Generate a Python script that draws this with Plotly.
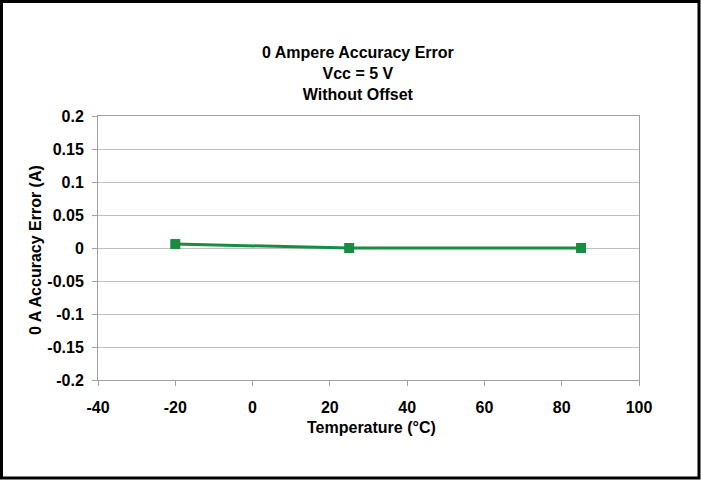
import plotly.graph_objects as go

temperature_c = [-20, 25, 85]
error_a = [0.006, 0.0, 0.0]

x_ticks = [-40, -20, 0, 20, 40, 60, 80, 100]
x_tick_text = ["-40", "-20", "0", "20", "40", "60", "80", "100"]
y_ticks = [-0.2, -0.15, -0.1, -0.05, 0, 0.05, 0.1, 0.15, 0.2]
y_tick_text = ["-0.2", "-0.15", "-0.1", "-0.05", "0", "0.05", "0.1", "0.15", "0.2"]

title_lines = ["0 Ampere Accuracy Error", "Vcc = 5 V", "Without Offset"]
x_title = "Temperature (°C)"
y_title = "0 A Accuracy Error (A)"

GREEN = "#168E42"
FONT = "Liberation Sans, Arial, sans-serif"

W, H = 701, 480
L, R, T, B = 98, 62, 116, 100
pw, ph = W - L - R, H - T - B


def px_to_paper_x(px):
    return (px - L) / pw


def px_to_paper_y(py):
    return (H - B - py) / ph


def bold_font(size):
    return dict(family=FONT, size=size, color="black", weight="bold")


fig = go.Figure()
fig.add_trace(go.Scatter(
    x=temperature_c, y=error_a, mode="lines+markers",
    line=dict(color=GREEN, width=3),
    marker=dict(symbol="square", size=10, color=GREEN),
    showlegend=False,
))

axis_common = dict(
    showline=True, linecolor="#a0a0a0", linewidth=1, mirror=True,
    ticks="outside", ticklen=5, tickcolor="#a0a0a0",
    tickfont=bold_font(16),
    zeroline=False,
)

fig.update_xaxes(range=[-40, 100], tickvals=x_ticks, ticktext=x_tick_text,
                 showgrid=False, ticklabelstandoff=8, **axis_common)
fig.update_yaxes(range=[-0.2, 0.2], tickvals=y_ticks, ticktext=y_tick_text,
                 showgrid=True, gridcolor="#c0c0c0", gridwidth=1,
                 ticklabelstandoff=5, **axis_common)

annotations = [
    dict(text="<br>".join(title_lines), xref="paper", yref="paper",
         x=px_to_paper_x(358), y=px_to_paper_y(73), xanchor="center", yanchor="middle",
         showarrow=False, font=bold_font(16)),
    dict(text=x_title, xref="paper", yref="paper",
         x=px_to_paper_x(371), y=px_to_paper_y(427), xanchor="center", yanchor="middle",
         showarrow=False, font=bold_font(16)),
    dict(text=y_title, xref="paper", yref="paper", textangle=-90,
         x=px_to_paper_x(35), y=px_to_paper_y(250), xanchor="center", yanchor="middle",
         showarrow=False, font=bold_font(16)),
]

shapes = [dict(type="rect", xref="paper", yref="paper",
               x0=px_to_paper_x(1.5), x1=px_to_paper_x(699),
               y0=px_to_paper_y(478), y1=px_to_paper_y(1.5),
               line=dict(color="black", width=3), fillcolor="rgba(0,0,0,0)", layer="below")]

fig.update_layout(
    width=W, height=H, autosize=False,
    margin=dict(l=L, r=R, t=T, b=B),
    paper_bgcolor="white", plot_bgcolor="white",
    font=bold_font(16),
    annotations=annotations, shapes=shapes,
)

fig.write_html(
    "out.html",
    config={"displayModeBar": False},
    post_script="document.body.style.margin='0';document.body.style.padding='0';",
)
